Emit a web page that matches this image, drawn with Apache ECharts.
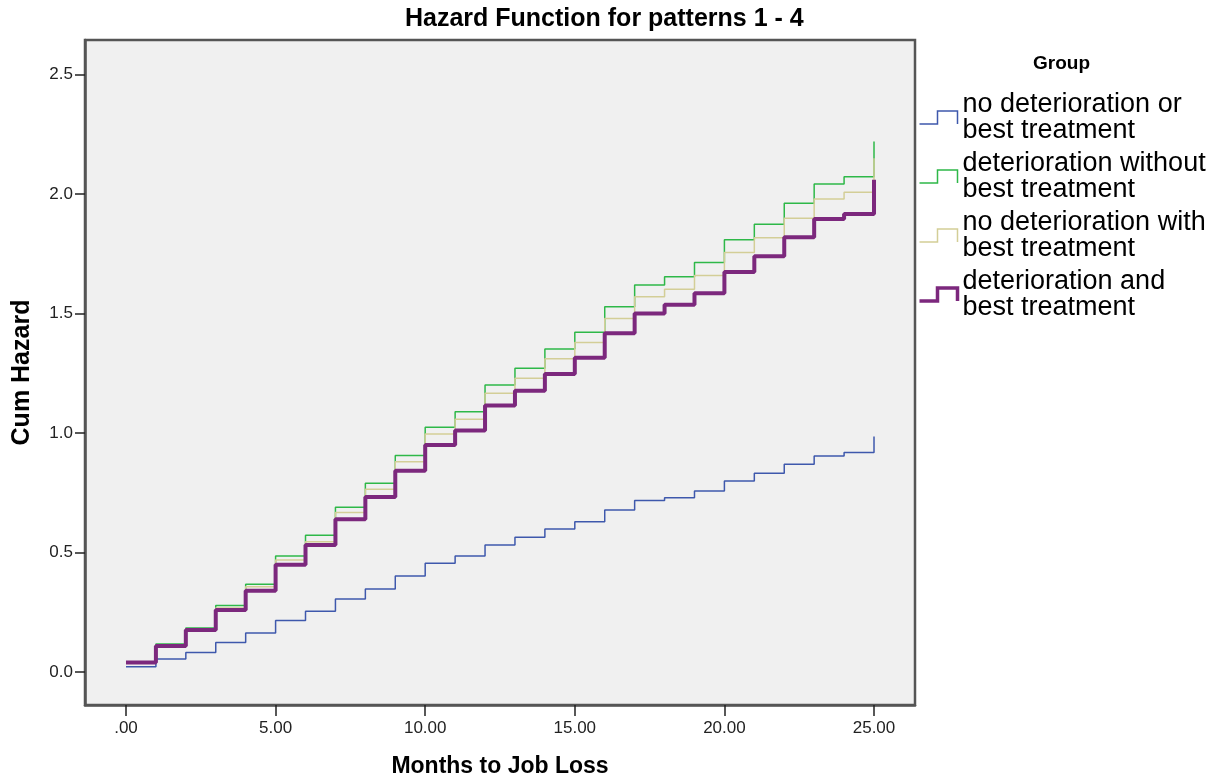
<!DOCTYPE html>
<html>
<head>
<meta charset="utf-8">
<script src="https://cdn.jsdelivr.net/npm/echarts@6/dist/echarts.min.js"></script>
<style>
html,body{margin:0;padding:0;background:#fff;}
#chart{width:1225px;height:779px;}
</style>
</head>
<body>
<div id="chart"></div>
<script>
// ---- data ----
const months = [0,1,2,3,4,5,6,7,8,9,10,11,12,13,14,15,16,17,18,19,20,21,22,23,24,25];
const groupNames = [
  'no deterioration or\nbest treatment',
  'deterioration without\nbest treatment',
  'no deterioration with\nbest treatment',
  'deterioration and\nbest treatment'
];
const noDetNoBest = [0.022,0.054,0.082,0.123,0.163,0.215,0.254,0.305,0.347,0.402,0.455,0.485,0.531,0.564,0.598,0.629,0.678,0.717,0.729,0.757,0.799,0.831,0.869,0.904,0.918,0.985];
const detNoBest   = [0.040,0.117,0.184,0.278,0.367,0.485,0.572,0.689,0.790,0.906,1.024,1.089,1.201,1.271,1.351,1.421,1.528,1.619,1.654,1.713,1.808,1.873,1.961,2.042,2.072,2.219];
const noDetBest   = [0.040,0.112,0.180,0.268,0.357,0.469,0.545,0.667,0.765,0.880,0.996,1.057,1.166,1.229,1.310,1.379,1.479,1.570,1.601,1.659,1.755,1.817,1.898,1.979,2.007,2.149];
const detBest     = [0.040,0.109,0.176,0.259,0.340,0.449,0.531,0.639,0.732,0.842,0.950,1.010,1.115,1.177,1.247,1.315,1.417,1.500,1.536,1.585,1.673,1.739,1.819,1.895,1.916,2.059];
const xTicks = [0,5,10,15,20,25];
const yTicks = [0,0.5,1.0,1.5,2.0,2.5];

const seriesValues = [noDetNoBest, detNoBest, noDetBest, detBest];
const colors = ['#3E58AC','#2EB848','#D3CE97','#7C287D'];
const widths = [1.5,1.5,1.5,4];

const FONT = '"Liberation Sans", Arial, sans-serif';
const stepIcon = 'path://M0,13 L18,13 L18,0 L38,0 L38,13';

const chart = echarts.init(document.getElementById('chart'));
chart.setOption({
  backgroundColor: '#ffffff',
  animation: false,
  title: {
    text: 'Hazard Function for patterns 1 - 4',
    left: 405, top: 7, padding: 0,
    textStyle: {fontFamily: FONT, fontSize: 25, fontWeight: 'bold', color: '#000'}
  },
  graphic: [{
    type: 'text', left: 1033, top: 54,
    style: {text: 'Group', fontFamily: FONT, fontSize: 19, fontWeight: 'bold', fill: '#000'}
  }],
  legend: {
    orient: 'vertical',
    left: 917, top: 91, padding: 0,
    itemWidth: 38, itemHeight: 13, itemGap: 6,
    selectedMode: false,
    textStyle: {fontFamily: FONT, fontSize: 27, lineHeight: 26, color: '#000'},
    data: groupNames.map((n, i) => ({
      name: n, icon: stepIcon,
      itemStyle: {color: 'none', borderColor: colors[i], borderWidth: i === 3 ? 3.5 : 1.5}
    }))
  },
  grid: {
    left: 85, top: 40, right: 310, bottom: 74,
    outerBoundsMode: 'none', containLabel: false,
    show: true, backgroundColor: '#f0f0f0', borderColor: '#555', borderWidth: 2.5
  },
  xAxis: {
    type: 'value', position: 'bottom', min: -1.37, max: 26.37,
    name: 'Months to Job Loss', nameLocation: 'middle', nameGap: 50,
    nameTextStyle: {fontFamily: FONT, fontSize: 23, fontWeight: 'bold', color: '#000'},
    axisLine: {show: true, onZero: false, lineStyle: {color: '#555', width: 2.5}},
    splitLine: {show: false},
    axisTick: {show: true, inside: false, length: 11, customValues: xTicks, lineStyle: {color: '#222', width: 1.5}},
    axisLabel: {customValues: xTicks, margin: 15, fontFamily: FONT, fontSize: 17, color: '#222',
      formatter: v => v === 0 ? '.00' : v.toFixed(2)}
  },
  yAxis: {
    type: 'value', position: 'left', min: -0.138, max: 2.644,
    name: 'Cum Hazard', nameLocation: 'middle', nameGap: 50, nameRotate: 90,
    nameTextStyle: {fontFamily: FONT, fontSize: 25, fontWeight: 'bold', color: '#000'},
    axisLine: {show: true, onZero: false, lineStyle: {color: '#555', width: 2.5}},
    splitLine: {show: false},
    axisTick: {show: true, inside: false, length: 10, customValues: yTicks, lineStyle: {color: '#222', width: 1.5}},
    axisLabel: {customValues: yTicks, margin: 12, fontFamily: FONT, fontSize: 17, color: '#222',
      formatter: v => v.toFixed(1)}
  },
  series: seriesValues.map((vals, i) => ({
    name: groupNames[i],
    type: 'line',
    step: 'end',
    showSymbol: false,
    symbol: 'none',
    color: colors[i],
    lineStyle: {color: colors[i], width: widths[i]},
    z: 2 + i,
    data: months.map((m, k) => [m, vals[k]])
  }))
});
</script>
</body>
</html>
